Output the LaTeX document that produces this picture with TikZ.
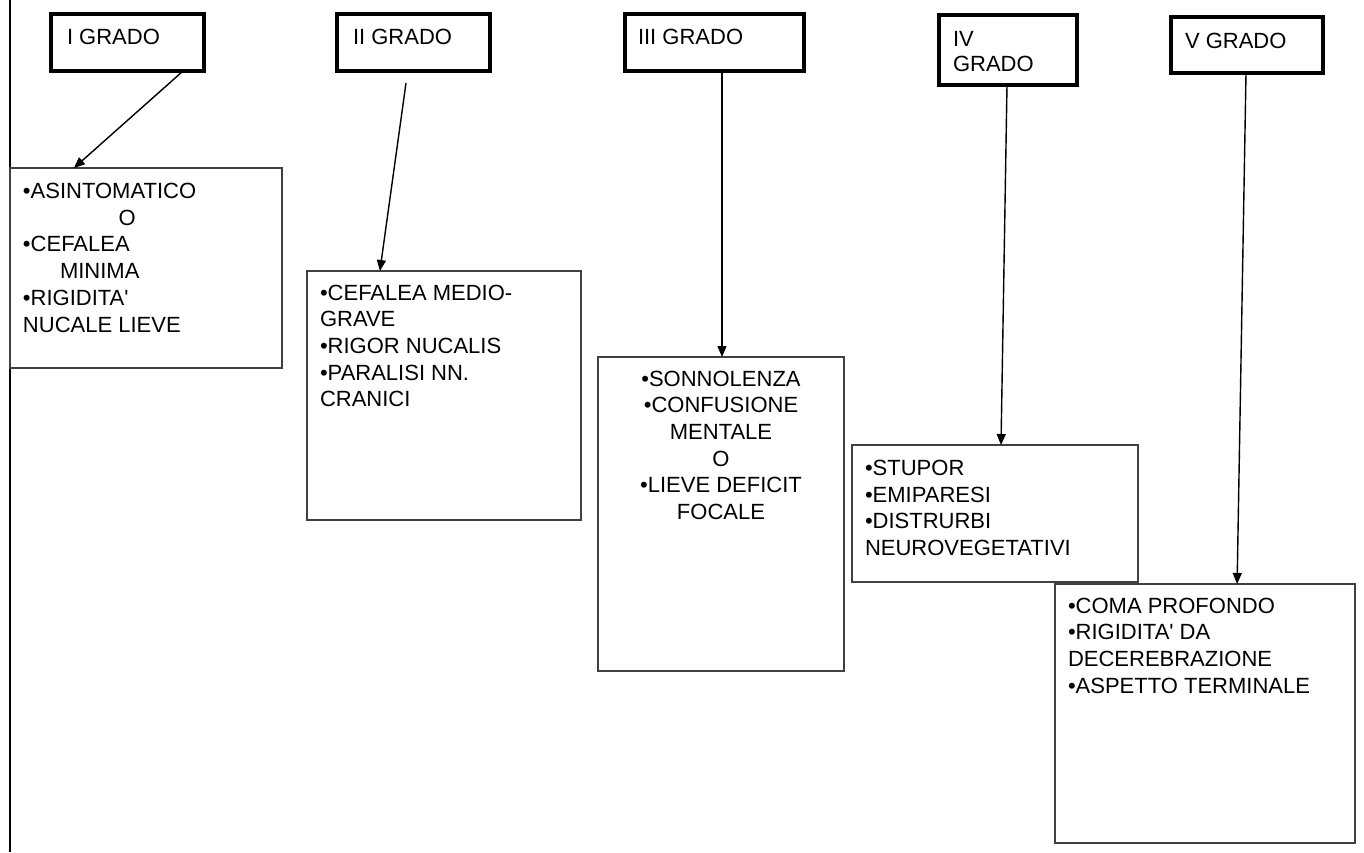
\documentclass[tikz,border=0pt]{standalone}
\usepackage{fontspec}
\setmainfont{Liberation Sans}
\usetikzlibrary{arrows.meta,calc}

% fixed-size text block: width, height, left padding, first baseline, lines
\newcommand{\leftblock}[5]{%
  \parbox[c][#2][t]{#1}{\raggedright\leftskip=#3\relax\parindent=0pt
    \rule{0pt}{#4}#5}}
\newcommand{\midblock}[4]{%
  \parbox[c][#2][t]{#1}{\centering\parindent=0pt
    \rule{0pt}{#3}#4}}
\newcommand{\apo}{\textquotesingle}

\begin{document}
\begin{tikzpicture}[x=1pt,y=-1pt,
  font=\fontsize{22}{26.7}\selectfont,
  gradebox/.style={draw=black, line width=3.2pt, inner sep=0pt, outer sep=0pt, anchor=north west},
  symbox/.style={draw=black!75, line width=1.3pt, inner sep=0pt, outer sep=0pt, anchor=north west},
  conn/.style={line width=1.4pt, -{Triangle[length=11pt,width=9pt]}}]
\useasboundingbox (0,0) rectangle (1364,852);

% rule along the left edge
\draw[line width=2.8pt] (10,0) -- (10,852);

% grade headers
\node[gradebox] (g1) at (51,14)   {\leftblock{153pt}{57pt}{16pt}{30pt}{I GRADO}};
\node[gradebox] (g2) at (337,14)  {\leftblock{153pt}{57pt}{16pt}{30pt}{II GRADO}};
\node[gradebox] (g3) at (625,14)  {\leftblock{179pt}{57pt}{13pt}{30pt}{III GRADO}};
\node[gradebox] (g4) at (939,15)  {\leftblock{138pt}{70pt}{14pt}{31pt}{IV\\[-1.7pt]GRADO}};
\node[gradebox] (g5) at (1171,17) {\leftblock{152pt}{56pt}{14pt}{31pt}{V GRADO}};

% symptom boxes
\node[symbox] (s1) at (10,168) {\leftblock{272pt}{200pt}{13pt}{30.5pt}{%
  •ASINTOMATICO\\\hspace*{95.5pt}O\\•CEFALEA\\\hspace*{37pt}MINIMA\\•RIGIDITA\apo\\NUCALE LIEVE}};
\node[symbox] (s2) at (307,271) {\leftblock{274pt}{249pt}{13pt}{29pt}{%
  •CEFALEA MEDIO-\\GRAVE\\•RIGOR NUCALIS\\•PARALISI NN.\\CRANICI}};
\node[symbox] (s3) at (598,357) {\midblock{246pt}{314pt}{29pt}{%
  •SONNOLENZA\\•CONFUSIONE\\MENTALE\\O\\•LIEVE DEFICIT\\FOCALE}};
\node[symbox] (s4) at (852,445) {\leftblock{286pt}{137pt}{13pt}{30.5pt}{%
  •STUPOR\\•EMIPARESI\\•DISTRURBI\\NEUROVEGETATIVI}};
\node[symbox] (s5) at (1055,584) {\leftblock{300pt}{259pt}{13pt}{29pt}{%
  •COMA PROFONDO\\•RIGIDITA\apo{} DA\\DECEREBRAZIONE\\•ASPETTO TERMINALE}};

% connectors
\coordinate (a2) at ($(g2.south)+(-7.5,12)$);
\draw[conn] ($(g1.south west)!0.863!(g1.south east)$) -- ($(s1.north west)!0.235!(s1.north east)$);
\draw[conn] (a2) -- ($(s2.north west)!0.266!(s2.north east)$);
\draw[conn] ($(g3.south)+(7.5,0)$) -- ($(s3.north)+(1,0)$);
\draw[conn] ($(g4.south)+(-1,0)$) -- ($(s4.north west)!0.521!(s4.north east)$);
\draw[conn] ($(g5.south)+(-1,0)$) -- ($(s5.north west)!0.607!(s5.north east)$);
\end{tikzpicture}
\end{document}
